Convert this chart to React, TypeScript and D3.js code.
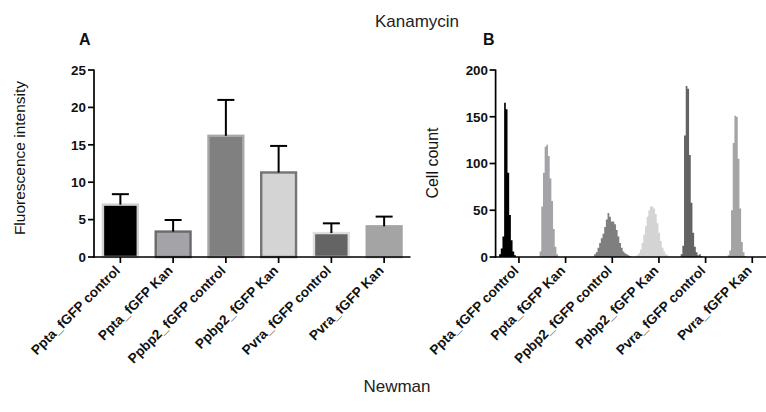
import React from "react";
import * as d3 from "d3";

const categories = [
  "Ppta_fGFP control",
  "Ppta_fGFP Kan",
  "Ppbp2_fGFP control",
  "Ppbp2_fGFP Kan",
  "Pvra_fGFP control",
  "Pvra_fGFP Kan",
];
const meanIntensity = [7.0, 3.4, 16.2, 11.3, 3.2, 4.1];
const sdIntensity = [1.4, 1.55, 4.8, 3.55, 1.3, 1.3];
const yTicksA = [0, 5, 10, 15, 20, 25];
const yTicksB = [0, 50, 100, 150, 200];

// Histograms (panel B): start position on the category axis and cell counts per bin
const BIN = 0.036;
const histStart = [0.075, 0.943, 2.111, 3.021, 3.966, 4.973];
const histPptaControl = [3, 9, 22, 165, 158, 90, 45, 18, 6, 2];
const histPptaKan = [6, 54, 90, 118, 120, 108, 84, 60, 30, 11, 3];
const histPpbp2Control = [3, 5, 10, 15, 20, 25, 32, 40, 47, 43, 38, 38, 35, 29, 22, 15, 10, 6, 4, 3, 2, 1];
const histPpbp2Kan = [2, 4, 8, 15, 24, 33, 43, 50, 54, 54, 52, 46, 36, 26, 17, 10, 6, 3, 2];
const histPvraControl = [3, 12, 130, 183, 180, 109, 58, 26, 11, 5, 2, 3, 1];
const histPvraKan = [2, 7, 50, 122, 151, 150, 105, 52, 16, 5, 1];
const histograms = [histPptaControl, histPptaKan, histPpbp2Control, histPpbp2Kan, histPvraControl, histPvraKan];

const barFill = ["#000000", "#a4a4a8", "#808080", "#d4d4d4", "#646464", "#a4a4a4"];
const barStroke = ["#d0d0d0", "#6a6a6a", "#a8a8a8", "#747474", "#dedede", "#a4a4a4"];
const histFill = ["#000000", "#a4a4a8", "#7f7f7f", "#d4d4d4", "#636363", "#a4a4a4"];

const FONT = "'Liberation Sans', Arial, Helvetica, sans-serif";

export default function App() {
  const W = 766, H = 412;
  const yTop = 70, yBot = 257;

  // Panel A
  const xA = d3.scaleBand<string>().domain(categories).range([94, 410.5]).padding(0);
  const yA = d3.scaleLinear().domain([0, 25]).range([yBot, yTop]);
  const bw = xA.bandwidth() * 0.66;

  // Panel B
  const xB = d3.scaleLinear().domain([0, 6]).range([495.6, 775.6]);
  const yB = d3.scaleLinear().domain([0, 200]).range([yBot, yTop]);

  const area = d3
    .area<[number, number]>()
    .x((d) => xB(d[0]))
    .y0(yB(0))
    .y1((d) => yB(d[1]))
    .curve(d3.curveStepAfter);

  const axisStroke = 1.7;
  const labelSize = 13.6;

  return (
    <svg width={W} height={H} style={{ position: "absolute", left: 0, top: 0, background: "#fff" }} fontFamily={FONT}>
      <rect width={W} height={H} fill="#fff" />
      {/* Titles */}
      <text x={417} y={27} fontSize={17} textAnchor="middle" fill="#222">Kanamycin</text>
      <text x={397} y={392} fontSize={17} textAnchor="middle" fill="#222">Newman</text>
      <text x={79} y={44.5} fontSize={16} fontWeight="bold" fill="#111">A</text>
      <text x={483} y={44.5} fontSize={16} fontWeight="bold" fill="#111">B</text>

      {/* Panel A */}
      <text transform={`translate(25,158) rotate(-90)`} fontSize={15.5} textAnchor="middle" fill="#111">Fluorescence intensity</text>
      {categories.map((c, i) => {
        const cx = xA(c)! + xA.bandwidth() / 2;
        const top = yA(meanIntensity[i]);
        const errTop = yA(meanIntensity[i] + sdIntensity[i]);
        return (
          <g key={c}>
            <rect x={cx - bw / 2} y={top} width={bw} height={yBot - top} fill={barFill[i]} stroke={barStroke[i]} strokeWidth={2.4} />
            <line x1={cx} x2={cx} y1={top} y2={errTop} stroke="#000" strokeWidth={2} />
            <line x1={cx - 8.5} x2={cx + 8.5} y1={errTop} y2={errTop} stroke="#000" strokeWidth={2} />
          </g>
        );
      })}
      <line x1={94} x2={94} y1={yTop - 0.5} y2={yBot + 0.8} stroke="#000" strokeWidth={axisStroke} />
      <line x1={93.2} x2={410.5} y1={yBot} y2={yBot} stroke="#000" strokeWidth={axisStroke} />
      {yTicksA.map((t) => (
        <g key={t}>
          <line x1={88} x2={94} y1={yA(t)} y2={yA(t)} stroke="#000" strokeWidth={axisStroke} />
          <text x={86} y={yA(t)} dy="0.36em" fontSize={13.4} fontWeight="bold" textAnchor="end" fill="#111">{t}</text>
        </g>
      ))}
      {categories.map((c) => {
        const cx = xA(c)! + xA.bandwidth() / 2;
        return (
          <g key={c}>
            <line x1={cx} x2={cx} y1={yBot} y2={yBot + 6} stroke="#000" strokeWidth={axisStroke} />
            <text transform={`translate(${cx - 3},${yBot + 11}) rotate(-45)`} dy="0.36em" fontSize={labelSize} fontWeight="bold" textAnchor="end" fill="#111">{c}</text>
          </g>
        );
      })}

      {/* Panel B */}
      <text transform={`translate(438,163) rotate(-90)`} fontSize={16} textAnchor="middle" fill="#111">Cell count</text>
      {histograms.map((h, i) => {
        const pts: [number, number][] = h.map((v, j) => [histStart[i] + j * BIN, v]);
        pts.push([histStart[i] + h.length * BIN, 0]);
        return <path key={i} d={area(pts)!} fill={histFill[i]} stroke="none" />;
      })}
      <line x1={495.6} x2={495.6} y1={yTop - 0.5} y2={yBot + 0.8} stroke="#000" strokeWidth={axisStroke} />
      <line x1={494.8} x2={766} y1={yBot} y2={yBot} stroke="#000" strokeWidth={axisStroke} />
      {yTicksB.map((t) => (
        <g key={t}>
          <line x1={489.6} x2={495.6} y1={yB(t)} y2={yB(t)} stroke="#000" strokeWidth={axisStroke} />
          <text x={488} y={yB(t)} dy="0.36em" fontSize={13.4} fontWeight="bold" textAnchor="end" fill="#111">{t}</text>
        </g>
      ))}
      {categories.map((c, i) => {
        const cx = xB(i + 0.5);
        return (
          <g key={c}>
            <line x1={cx} x2={cx} y1={yBot} y2={yBot + 6} stroke="#000" strokeWidth={axisStroke} />
            <text transform={`translate(${cx - 3},${yBot + 11}) rotate(-45)`} dy="0.36em" fontSize={labelSize} fontWeight="bold" textAnchor="end" fill="#111">{c}</text>
          </g>
        );
      })}
    </svg>
  );
}
